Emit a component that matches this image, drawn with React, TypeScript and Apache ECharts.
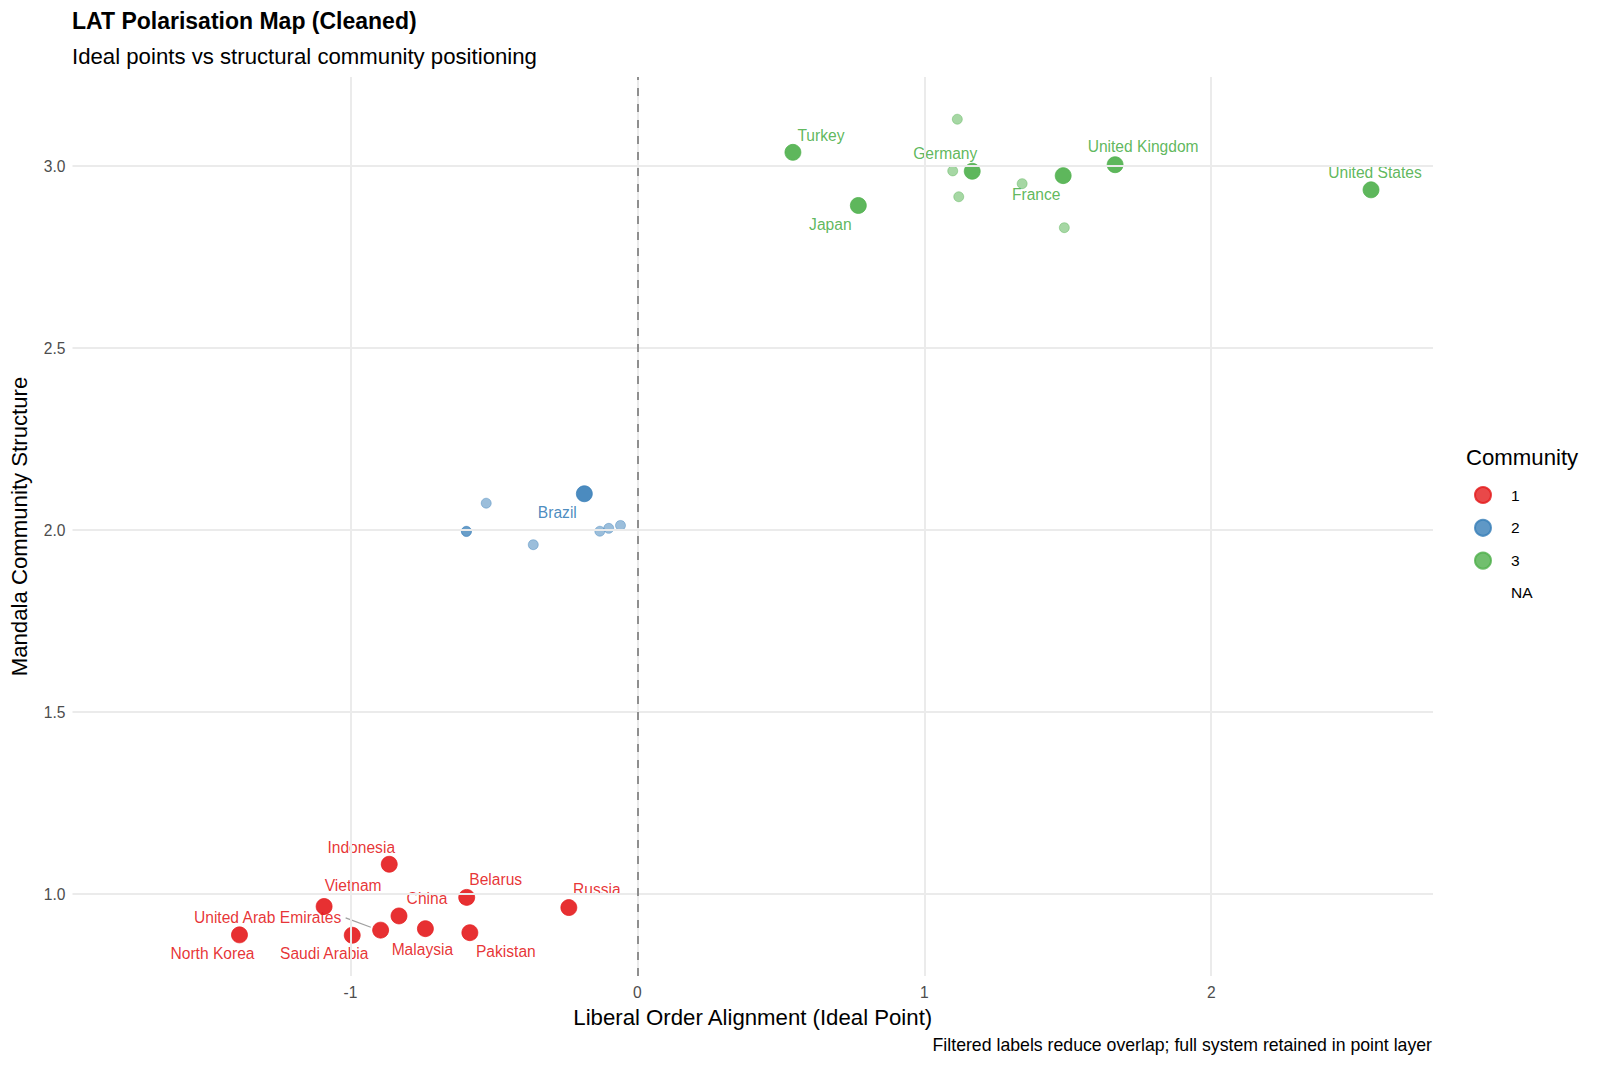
import React, { useEffect, useRef } from "react";
import * as echarts from "echarts";

// ---- data ----
const countryNames = [
  "Indonesia", "Vietnam", "Belarus", "Russia", "China", "United Arab Emirates",
  "Saudi Arabia", "North Korea", "Malaysia", "Pakistan",
  "Brazil", "", "", "", "", "", "", "",
  "Turkey", "Japan", "Germany", "France", "United Kingdom", "United States",
  "", "", "", "", "",
];
const idealPoints = [
  -0.865, -1.092, -0.595, -0.239, -0.831, -0.895, -0.994, -1.387, -0.739, -0.584,
  -0.185, -0.527, -0.596, -0.596, -0.363, -0.131, -0.1, -0.059,
  0.542, 0.77, 1.167, 1.484, 1.665, 2.557,
  1.115, 1.099, 1.12, 1.341, 1.488,
];
const mandalaPositions = [
  1.082, 0.966, 0.991, 0.963, 0.94, 0.901, 0.887, 0.888, 0.905, 0.894,
  2.1, 2.074, 1.997, 1.996, 1.96, 1.997, 2.005, 2.013,
  3.038, 2.892, 2.986, 2.974, 3.004, 2.935,
  3.129, 2.987, 2.916, 2.952, 2.831,
];
const communityOf = [
  "1", "1", "1", "1", "1", "1", "1", "1", "1", "1",
  "2", "2", "2", "2", "2", "2", "2", "2",
  "3", "3", "3", "3", "3", "3",
  "3", "3", "3", "3", "3",
];
const communityLevels = ["1", "2", "3"];
const legendLevels = ["1", "2", "3", "NA"];
const xTicks = [-1, 0, 1, 2];
const yTicks = [1, 1.5, 2, 2.5, 3];
const xLimits = [-1.969, 2.773];
const yLimits = [0.775, 3.245];

// ---- styling ----
const communityColors: Record<string, string> = {
  "1": "#E41A1C",
  "2": "#377EB8",
  "3": "#4DAF4A",
};
const labelOffsets: Record<string, [number, number]> = {
  Indonesia: [-28, -17],
  Vietnam: [29, -21],
  Belarus: [29, -18],
  Russia: [28, -18],
  China: [28, -17],
  "United Arab Emirates": [-113, -13],
  "North Korea": [-27, 19],
  "Saudi Arabia": [-28, 18],
  Malaysia: [-3, 21],
  Pakistan: [36, 19],
  Brazil: [-27, 19],
  Turkey: [28, -17],
  Germany: [-27, -18],
  Japan: [-28, 19],
  France: [-27, 19],
  "United Kingdom": [28, -18],
  "United States": [4, -17],
};
const FONT = "'Liberation Sans', Arial, Helvetica, sans-serif";
const W = 1600;
const H = 1067;
const GRID = { left: 72, right: 167, top: 77, bottom: 91 };
const BASE = 22.2;
const SMALL = 15.6;

export default function App() {
  const ref = useRef<HTMLDivElement | null>(null);

  useEffect(() => {
    document.body.style.margin = "0";
    if (!ref.current) return;
    const chart = echarts.init(ref.current, undefined, { renderer: "svg" });

    const pointSeries = communityLevels.map((lvl) => {
      const data: any[] = [];
      countryNames.forEach((name, i) => {
        if (communityOf[i] !== lvl) return;
        const labeled = name !== "";
        const off = labelOffsets[name] || [0, 0];
        data.push({
          value: [idealPoints[i], mandalaPositions[i]],
          name,
          symbolSize: labeled ? 16 : 10,
          itemStyle: { opacity: labeled ? 0.9 : 0.5 },
          label: { offset: off },
        });
      });
      return {
        type: "scatter",
        name: lvl,
        z: 3,
        symbol: "circle",
        itemStyle: {
          color: communityColors[lvl],
          borderColor: communityColors[lvl],
          borderWidth: 0.8,
        },
        emphasis: { disabled: true },
        label: {
          show: true,
          position: "inside",
          align: "center",
          verticalAlign: "middle",
          formatter: (p: any) => p.name,
          color: communityColors[lvl],
          fontSize: SMALL,
          fontFamily: FONT,
        },
        data,
      };
    });

    const option: any = {
      animation: false,
      textStyle: { fontFamily: FONT },
      title: {
        left: 72,
        top: 8,
        padding: 0,
        itemGap: 11.5,
        text: "LAT Polarisation Map (Cleaned)",
        subtext: "Ideal points vs structural community positioning",
        textStyle: { fontSize: 23, fontWeight: "bold", color: "#000", fontFamily: FONT, lineHeight: 25 },
        subtextStyle: { fontSize: BASE, color: "#000", fontFamily: FONT, lineHeight: 23 },
      },
      legend: {
        orient: "vertical",
        left: 1469,
        top: 481,
        itemWidth: 46,
        itemHeight: 16,
        itemGap: 14.8,
        icon: "circle",
        selectedMode: false,
        data: legendLevels,
        textStyle: { fontSize: 15.5, color: "#000", fontFamily: FONT, lineHeight: 16 },
      },
      grid: { ...GRID, containLabel: false },
      xAxis: {
        type: "value",
        min: xLimits[0],
        max: xLimits[1],
        splitNumber: 5,
        axisLine: { show: false },
        axisTick: { show: false },
        splitLine: { show: false },
        axisLabel: {
          color: "#4D4D4D",
          fontSize: SMALL,
          fontFamily: FONT,
          margin: 8,
          formatter: (v: number) =>
            Math.abs(v - Math.round(v)) < 1e-9 ? String(Math.round(v)) : "",
        },
        name: "Liberal Order Alignment (Ideal Point)",
        nameLocation: "middle",
        nameGap: 30,
        nameTextStyle: { fontSize: BASE, color: "#000", fontFamily: FONT },
      },
      yAxis: {
        type: "value",
        min: yLimits[0],
        max: yLimits[1],
        splitNumber: 5,
        axisLine: { show: false },
        axisTick: { show: false },
        splitLine: { show: false },
        axisLabel: {
          color: "#4D4D4D",
          fontSize: SMALL,
          fontFamily: FONT,
          margin: 7,
          formatter: (v: number) =>
            Math.abs(v * 2 - Math.round(v * 2)) < 1e-9 ? v.toFixed(1) : "",
        },
        name: "Mandala Community Structure",
        nameLocation: "middle",
        nameGap: 42.5,
        nameTextStyle: { fontSize: BASE, color: "#000", fontFamily: FONT },
      },
      series: [
        {
          type: "scatter",
          name: "gridlines",
          z: 1,
          data: [],
          silent: true,
          markLine: {
            silent: true,
            symbol: "none",
            animation: false,
            label: { show: false },
            lineStyle: { color: "#EBEBEB", width: 2, type: "solid" },
            data: [
              ...xTicks.map((v) => ({ xAxis: v })),
              ...yTicks.map((v) => ({ yAxis: v })),
            ],
          },
        },
        {
          type: "scatter",
          name: "zero",
          z: 2,
          data: [],
          silent: true,
          markLine: {
            silent: true,
            symbol: "none",
            animation: false,
            label: { show: false },
            lineStyle: { color: "#8F8F8F", width: 2, type: [8, 8] },
            data: [{ xAxis: 0 }],
          },
        },
        ...pointSeries,
        {
          type: "scatter",
          name: "NA",
          data: [],
          itemStyle: { color: "rgba(0,0,0,0)" },
        },
      ],
    };
    chart.setOption(option);

    const uaeIdx = countryNames.indexOf("United Arab Emirates");
    const p = chart.convertToPixel({ gridIndex: 0 }, [
      idealPoints[uaeIdx],
      mandalaPositions[uaeIdx],
    ]) as number[];

    chart.setOption({
      graphic: [
        {
          type: "text",
          left: 1466,
          top: 446,
          style: { text: "Community", fontSize: BASE, fill: "#000", fontFamily: FONT },
        },
        {
          type: "text",
          right: W - 1432,
          top: 1036,
          style: {
            text: "Filtered labels reduce overlap; full system retained in point layer",
            fontSize: 17.7,
            fill: "#000",
            fontFamily: FONT,
          },
        },
        {
          type: "line",
          z: 2,
          silent: true,
          shape: { x1: p[0] - 35, y1: p[1] - 12.3, x2: p[0] - 9.8, y2: p[1] - 2.9 },
          style: { stroke: "#A0A0A0", lineWidth: 1.2 },
        },
      ],
    });

    return () => chart.dispose();
  }, []);

  return <div ref={ref} style={{ width: W, height: H }} />;
}
